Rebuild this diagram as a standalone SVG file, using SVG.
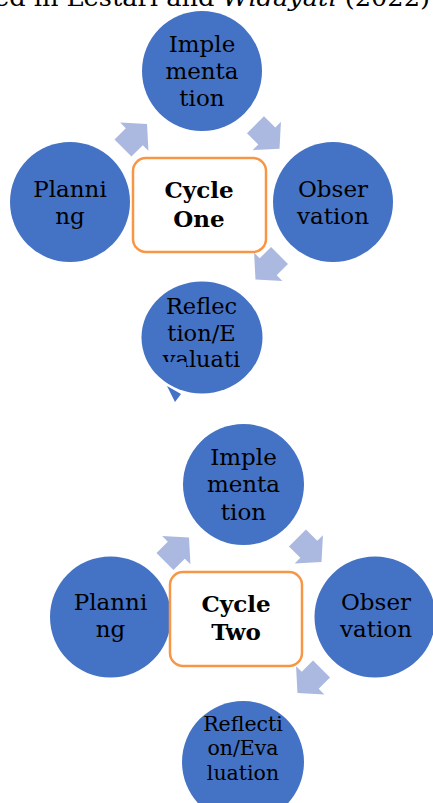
<svg xmlns="http://www.w3.org/2000/svg" width="433" height="803" viewBox="0 0 433 803">
<defs>
<style>
.c{fill:#4472C4}
.box{fill:#fff;stroke:#F79646;stroke-width:2.5}
.ar{fill:#ABB9E0}
.t{font-family:"DejaVu Serif","Liberation Serif",Georgia,serif;font-size:23px;fill:#000;text-anchor:middle}
.b{font-weight:bold}
.hd{font-family:"DejaVu Serif","Liberation Serif",Georgia,serif;font-size:24px;fill:#000}
</style>
<polygon id="arrow" points="-17,-12 -1,-12 -1,-20 17,0 -1,20 -1,12 -17,12"/>
</defs>
<rect width="433" height="803" fill="#fff"/>
<text class="hd" x="-6" y="6" textLength="436" lengthAdjust="spacingAndGlyphs">ed in Lestari and <tspan font-style="italic">Widayati</tspan> (2022)</text>

<g id="connectors">
<use href="#arrow" class="ar" transform="translate(135,136) rotate(-45)"/>
<use href="#arrow" class="ar" transform="translate(267.5,136.7) rotate(45)"/>
<use href="#arrow" class="ar" transform="translate(267.5,267.5) rotate(135)"/>
<use href="#arrow" class="ar" transform="translate(177,549.5) rotate(-45)"/>
<use href="#arrow" class="ar" transform="translate(309.5,550) rotate(45)"/>
<use href="#arrow" class="ar" transform="translate(309.5,681) rotate(135)"/>
</g>

<g id="impl1">
<circle class="c" cx="202" cy="71" r="60"/>
<text class="t" x="202" y="52">Imple</text>
<text class="t" x="202" y="79">menta</text>
<text class="t" x="202" y="106">tion</text>
</g>
<g id="plan1">
<circle class="c" cx="70" cy="202" r="60"/>
<text class="t" x="70" y="197">Planni</text>
<text class="t" x="70" y="224">ng</text>
</g>
<g id="obs1">
<circle class="c" cx="333" cy="202" r="60"/>
<text class="t" x="333" y="197">Obser</text>
<text class="t" x="333" y="224">vation</text>
</g>
<g id="cycle1">
<rect class="box" x="133" y="158" width="133" height="94" rx="13"/>
<text class="t b" x="199" y="198">Cycle</text>
<text class="t b" x="199" y="227">One</text>
</g>
<g id="refl1">
<ellipse class="c" cx="202" cy="337.5" rx="60.5" ry="56"/>
<polygon class="c" points="167,386 175,402 181,394"/>
<text class="t" x="201.5" y="314" style="font-size:22.5px">Reflec</text>
<text class="t" x="201.5" y="341" style="font-size:22.5px">tion/E</text>
<text class="t" x="201.5" y="367" style="font-size:22.5px">valuati</text>
<rect class="c" x="162" y="362" width="24" height="9"/>
</g>

<g id="impl2">
<circle class="c" cx="243.5" cy="484.5" r="60.5"/>
<text class="t" x="243.5" y="465">Imple</text>
<text class="t" x="243.5" y="492">menta</text>
<text class="t" x="243.5" y="520">tion</text>
</g>
<g id="plan2">
<circle class="c" cx="110.5" cy="617" r="60.5"/>
<text class="t" x="110.5" y="610">Planni</text>
<text class="t" x="110.5" y="637">ng</text>
</g>
<g id="obs2">
<circle class="c" cx="375" cy="617" r="60.5"/>
<text class="t" x="376" y="610">Obser</text>
<text class="t" x="376" y="637">vation</text>
</g>
<g id="cycle2">
<rect class="box" x="170" y="572" width="132" height="94" rx="13"/>
<text class="t b" x="236" y="612">Cycle</text>
<text class="t b" x="236" y="640">Two</text>
</g>
<g id="refl2">
<circle class="c" cx="243" cy="762" r="61"/>
<text class="t" x="243" y="731" style="font-size:20.5px">Reflecti</text>
<text class="t" x="243" y="755" style="font-size:20.5px">on/Eva</text>
<text class="t" x="243" y="780" style="font-size:20.5px">luation</text>
<rect class="c" x="214" y="762" width="22" height="6"/>
</g>
</svg>
